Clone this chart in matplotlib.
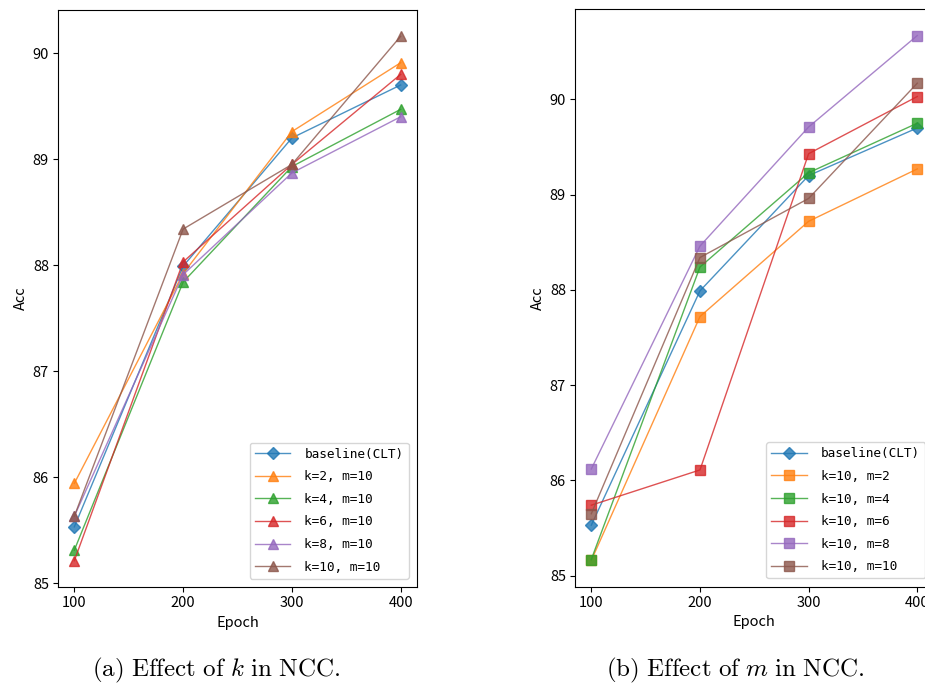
import matplotlib
matplotlib.use("Agg")
import matplotlib.pyplot as plt

plt.rcParams['mathtext.fontset'] = 'cm'

epochs = [100, 200, 300, 400]

# (a) Effect of k
labels_k = ["baseline(CLT)", "k=2, m=10", "k=4, m=10", "k=6, m=10", "k=8, m=10", "k=10, m=10"]
baseline = [85.53, 87.99, 89.20, 89.70]
k2_m10 = [85.94, 87.92, 89.26, 89.91]
k4_m10 = [85.31, 87.84, 88.93, 89.47]
k6_m10 = [85.21, 88.03, 88.95, 89.80]
k8_m10 = [85.63, 87.91, 88.87, 89.40]
k10_m10 = [85.63, 88.34, 88.95, 90.16]

# (b) Effect of m
labels_m = ["baseline(CLT)", "k=10, m=2", "k=10, m=4", "k=10, m=6", "k=10, m=8", "k=10, m=10"]
k10_m2 = [85.16, 87.72, 88.72, 89.27]
k10_m4 = [85.17, 88.24, 89.23, 89.75]
k10_m6 = [85.74, 86.11, 89.43, 90.03]
k10_m8 = [86.12, 88.46, 89.71, 90.67]
k10_m10b = [85.65, 88.34, 88.96, 90.17]

colors = ['#1f77b4', '#ff7f0e', '#2ca02c', '#d62728', '#9467bd', '#8c564b']

W, H = 925, 683
fig = plt.figure(figsize=(W / 100, H / 100), dpi=100)

ax1 = fig.add_axes([58 / W, (H - 587) / H, 359 / W, 577 / H])
ax2 = fig.add_axes([575 / W, (H - 586.7) / H, 358.6 / W, 577.4 / H])

tick_font = 'Noto Sans CJK SC'
leg_font = 'DejaVu Sans Mono'

def draw(ax, series, labels, marker):
    for i, (s, lab) in enumerate(zip(series, labels)):
        m = 'D' if i == 0 else marker
        ms = 6.5 if i == 0 else (7.5 if marker == '^' else 7)
        ax.plot(epochs, s, marker=m, color=colors[i], label=lab,
                linewidth=1.0, markersize=ms, alpha=0.8)
    ax.set_xticks(epochs)
    ax.set_yticks([85, 86, 87, 88, 89, 90])
    for t in ax.get_xticklabels() + ax.get_yticklabels():
        t.set_fontfamily(tick_font)
        t.set_fontsize(10.5)
    ax.tick_params(pad=3)
    ax.set_xlabel("Epoch", fontfamily=tick_font, fontsize=10.5, labelpad=4)
    ax.set_ylabel("Acc", fontfamily=tick_font, fontsize=10.5, labelpad=3)
    ax.legend(loc='lower right', prop={'family': leg_font, 'size': 9.2},
              handlelength=2.8, handletextpad=1.1, borderaxespad=0.65,
              labelspacing=0.75)

draw(ax1, [baseline, k2_m10, k4_m10, k6_m10, k8_m10, k10_m10], labels_k, '^')
draw(ax2, [baseline, k10_m2, k10_m4, k10_m6, k10_m8, k10_m10b], labels_m, 's')

fig.text(216 / W, (H - 676) / H, r"$\mathrm{(a)\ Effect\ of\ }k\mathrm{\ in\ NCC.}$",
         ha='center', va='baseline', fontsize=18)
fig.text(735 / W, (H - 676) / H, r"$\mathrm{(b)\ Effect\ of\ }m\mathrm{\ in\ NCC.}$",
         ha='center', va='baseline', fontsize=18)

fig.savefig("out.png", dpi=100)
